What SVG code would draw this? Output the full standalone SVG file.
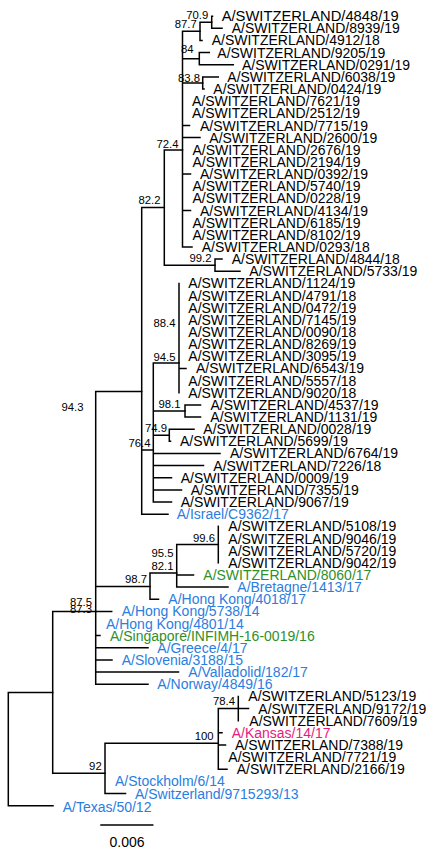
<svg xmlns="http://www.w3.org/2000/svg" width="429" height="850" viewBox="0 0 429 850">
<style>
.e{stroke:#000;stroke-width:1.5;fill:none;stroke-linecap:square}
text{font-family:"Liberation Sans",Arial,sans-serif;fill:#000}
.lf{font-size:14px}
.bs{font-size:11.3px;text-anchor:end}
.blue{fill:#2b7de0}
.green{fill:#2f8f2a}
.pink{fill:#e8197d}
.sc{font-size:14px;text-anchor:middle}
</style>
<rect width="429" height="850" fill="#fff"/>
<g id="connectors" class="e">
<path d="M8.3 692.5V805.7M8.3 692.5H52.7M8.3 805.7H53"/>
<path d="M52.7 611.5V773.3M52.7 611.5H95.7M52.7 773.3H105"/>
<path d="M105 743.3V793.6M105 743.3H218.3M105 793.6H125.5"/>
<path d="M218.3 708.5V769.3M218.3 708.5H238.3M218.3 732.8H222M218.3 745H225.5M218.3 769.3H227"/>
<path d="M238.3 696.4V720.7M238.3 708.5H248.5"/>
<path d="M95.7 391.4V684.2M95.7 391.4H141.7M95.7 586.5H150M95.7 611.4H111.7M95.7 635.6H100M95.7 647.8H148M95.7 660H112M95.7 672.1H178.5M95.7 684.2H148"/>
<path d="M150 573V599.2M150 573H176.7M150 599.2H158.5"/>
<path d="M176.7 544.6V587.1M176.7 544.6H218.3M176.7 574.9H193.5M176.7 587.1H228"/>
<path d="M218.3 526.3V562.8"/>
<path d="M141.7 207.6V514.2M141.7 207.6H164.3M141.7 450H153.3M141.7 514.2H168"/>
<path d="M153.3 363V502M153.3 363H179M153.3 411H185M153.3 435.2H169.3M153.3 453.4H220M153.3 465.6H203.5M153.3 477.7H171.5M153.3 489.9H181.5M153.3 502H171.5"/>
<path d="M169.3 429.2V441.3M169.3 429.2H194M169.3 441.3H170.5"/>
<path d="M185 404.9V417M185 404.9H200.5M185 417H200.5"/>
<path d="M179 283.4V392.7M179 368.4H186"/>
<path d="M164.3 150V265.2M164.3 150H182.5M164.3 265.2H215"/>
<path d="M215 259.1V271.2M215 259.1H222M215 271.2H240"/>
<path d="M182.5 31.3V246.9M182.5 31.3H200M182.5 58.7H199.3M182.5 83H202.7M182.5 125.5H189.5M182.5 137.6H200M182.5 174.1H190.5M182.5 210.5H190.5M182.5 246.9H192"/>
<path d="M200 22.2V40.4M200 22.2H211.7M200 40.4H202"/>
<path d="M211.7 16.15V28.3M211.7 16.15H212.5M211.7 28.3H222"/>
<path d="M199.3 52.6V64.7M199.3 52.6H209.3M199.3 64.7H233.3"/>
<path d="M202.7 76.9V89M202.7 76.9H218.3M202.7 89H204"/>
</g>
<g id="support">
<g id="n70_9"><text class="bs" x="208.3" y="18.5">70.9</text></g>
<g id="n87_7"><text class="bs" x="196.7" y="27.5">87.7</text></g>
<g id="n84"><text class="bs" x="193.5" y="53">84</text></g>
<g id="n83_8"><text class="bs" x="200" y="81.5">83.8</text></g>
<g id="n72_4"><text class="bs" x="178.5" y="148">72.4</text></g>
<g id="n82_2"><text class="bs" x="160.5" y="204">82.2</text></g>
<g id="n99_2"><text class="bs" x="211.5" y="261.5">99.2</text></g>
<g id="n88_4"><text class="bs" x="175.5" y="326.5">88.4</text></g>
<g id="n94_5"><text class="bs" x="175.5" y="361">94.5</text></g>
<g id="n98_1"><text class="bs" x="180.5" y="408">98.1</text></g>
<g id="n74_9"><text class="bs" x="167" y="432">74.9</text></g>
<g id="n76_4"><text class="bs" x="150.5" y="447">76.4</text></g>
<g id="n94_3"><text class="bs" x="83.5" y="411">94.3</text></g>
<g id="n99_6"><text class="bs" x="215" y="541.5">99.6</text></g>
<g id="n95_5"><text class="bs" x="173.5" y="556.5">95.5</text></g>
<g id="n82_1"><text class="bs" x="173.5" y="570">82.1</text></g>
<g id="n98_7"><text class="bs" x="147" y="583">98.7</text></g>
<g id="n87_5"><text class="bs" x="92" y="606">87.5</text></g>
<g id="n87_3"><text class="bs" x="92" y="613">87.3</text></g>
<g id="n78_4"><text class="bs" x="235" y="705">78.4</text></g>
<g id="n100"><text class="bs" x="213.5" y="740">100</text></g>
<g id="n92"><text class="bs" x="101.7" y="770">92</text></g>
</g>
<g id="leaves" class="lf">
<g id="l0"><text x="221.7" y="21.2" textLength="177" lengthAdjust="spacingAndGlyphs">A/SWITZERLAND/4848/19</text></g>
<g id="l1"><text x="231.7" y="33.3">A/SWITZERLAND/8939/19</text></g>
<g id="l2"><text x="211.7" y="45.4">A/SWITZERLAND/4912/18</text></g>
<g id="l3"><text x="217.3" y="57.6">A/SWITZERLAND/9205/19</text></g>
<g id="l4"><text x="242" y="69.7">A/SWITZERLAND/0291/19</text></g>
<g id="l5"><text x="227.3" y="81.9">A/SWITZERLAND/6038/19</text></g>
<g id="l6"><text x="213.3" y="94">A/SWITZERLAND/0424/19</text></g>
<g id="l7"><text x="192" y="106.2">A/SWITZERLAND/7621/19</text></g>
<g id="l8"><text x="192" y="118.3">A/SWITZERLAND/2512/19</text></g>
<g id="l9"><text x="200" y="130.5">A/SWITZERLAND/7715/19</text></g>
<g id="l10"><text x="209.3" y="142.6">A/SWITZERLAND/2600/19</text></g>
<g id="l11"><text x="192.5" y="154.8">A/SWITZERLAND/2676/19</text></g>
<g id="l12"><text x="192.5" y="166.9">A/SWITZERLAND/2194/19</text></g>
<g id="l13"><text x="200" y="179.1">A/SWITZERLAND/0392/19</text></g>
<g id="l14"><text x="192.5" y="191.2">A/SWITZERLAND/5740/19</text></g>
<g id="l15"><text x="192.5" y="203.4">A/SWITZERLAND/0228/19</text></g>
<g id="l16"><text x="200" y="215.5">A/SWITZERLAND/4134/19</text></g>
<g id="l17"><text x="192.5" y="227.7">A/SWITZERLAND/6185/19</text></g>
<g id="l18"><text x="192.5" y="239.8">A/SWITZERLAND/8102/19</text></g>
<g id="l19"><text x="201.7" y="251.9">A/SWITZERLAND/0293/18</text></g>
<g id="l20"><text x="231.7" y="264.1">A/SWITZERLAND/4844/18</text></g>
<g id="l21"><text x="249.3" y="276.2">A/SWITZERLAND/5733/19</text></g>
<g id="l22"><text x="188.3" y="288.4">A/SWITZERLAND/1124/19</text></g>
<g id="l23"><text x="188.3" y="300.5">A/SWITZERLAND/4791/18</text></g>
<g id="l24"><text x="188.3" y="312.7">A/SWITZERLAND/0472/19</text></g>
<g id="l25"><text x="188.3" y="324.8">A/SWITZERLAND/7145/19</text></g>
<g id="l26"><text x="188.3" y="337">A/SWITZERLAND/0090/18</text></g>
<g id="l27"><text x="188.3" y="349.1">A/SWITZERLAND/8269/19</text></g>
<g id="l28"><text x="188.3" y="361.3">A/SWITZERLAND/3095/19</text></g>
<g id="l29"><text x="196" y="373.4">A/SWITZERLAND/6543/19</text></g>
<g id="l30"><text x="188.3" y="385.6">A/SWITZERLAND/5557/18</text></g>
<g id="l31"><text x="188.3" y="397.7">A/SWITZERLAND/9020/18</text></g>
<g id="l32"><text x="210.5" y="409.9">A/SWITZERLAND/4537/19</text></g>
<g id="l33"><text x="210.3" y="422">A/SWITZERLAND/1131/19</text></g>
<g id="l34"><text x="203.3" y="434.2">A/SWITZERLAND/0028/19</text></g>
<g id="l35"><text x="180" y="446.3">A/SWITZERLAND/5699/19</text></g>
<g id="l36"><text x="230" y="458.4">A/SWITZERLAND/6764/19</text></g>
<g id="l37"><text x="213.3" y="470.6">A/SWITZERLAND/7226/18</text></g>
<g id="l38"><text x="180.7" y="482.7">A/SWITZERLAND/0009/19</text></g>
<g id="l39"><text x="190.7" y="494.9">A/SWITZERLAND/7355/19</text></g>
<g id="l40"><text x="180.7" y="507">A/SWITZERLAND/9067/19</text></g>
<g id="l41"><text class="blue" x="176.7" y="519.2">A/Israel/C9362/17</text></g>
<g id="l42"><text x="228.3" y="531.3">A/SWITZERLAND/5108/19</text></g>
<g id="l43"><text x="228.3" y="543.5">A/SWITZERLAND/9046/19</text></g>
<g id="l44"><text x="228.3" y="555.6">A/SWITZERLAND/5720/19</text></g>
<g id="l45"><text x="228.3" y="567.8">A/SWITZERLAND/9042/19</text></g>
<g id="l46"><text class="green" x="203.3" y="579.9">A/SWITZERLAND/8060/17</text></g>
<g id="l47"><text class="blue" x="237.3" y="592.1">A/Bretagne/1413/17</text></g>
<g id="l48"><text class="blue" x="168.3" y="604.2">A/Hong Kong/4018/17</text></g>
<g id="l49"><text class="blue" x="121.7" y="616.4">A/Hong Kong/5738/14</text></g>
<g id="l50"><text class="blue" x="106" y="628.5">A/Hong Kong/4801/14</text></g>
<g id="l51"><text class="green" x="110" y="640.7">A/Singapore/INFIMH-16-0019/16</text></g>
<g id="l52"><text class="blue" x="157.3" y="652.8">A/Greece/4/17</text></g>
<g id="l53"><text class="blue" x="121.7" y="664.9">A/Slovenia/3188/15</text></g>
<g id="l54"><text class="blue" x="188.3" y="677.1">A/Valladolid/182/17</text></g>
<g id="l55"><text class="blue" x="157.3" y="689.2">A/Norway/4849/16</text></g>
<g id="l56"><text x="248.3" y="701.4">A/SWITZERLAND/5123/19</text></g>
<g id="l57"><text x="258.3" y="713.5">A/SWITZERLAND/9172/19</text></g>
<g id="l58"><text x="249.3" y="725.7">A/SWITZERLAND/7609/19</text></g>
<g id="l59"><text class="pink" x="231.7" y="737.8">A/Kansas/14/17</text></g>
<g id="l60"><text x="235" y="750">A/SWITZERLAND/7388/19</text></g>
<g id="l61"><text x="228.3" y="762.1">A/SWITZERLAND/7721/19</text></g>
<g id="l62"><text x="236.7" y="774.3">A/SWITZERLAND/2166/19</text></g>
<g id="l63"><text class="blue" x="115" y="786.4">A/Stockholm/6/14</text></g>
<g id="l64"><text class="blue" x="135" y="798.6">A/Switzerland/9715293/13</text></g>
<g id="l65"><text class="blue" x="62.7" y="812">A/Texas/50/12</text></g>
</g>
<g id="scale">
<path class="e" d="M101 825H152.7"/>
<text class="sc" x="127" y="847">0.006</text>
</g>
</svg>
